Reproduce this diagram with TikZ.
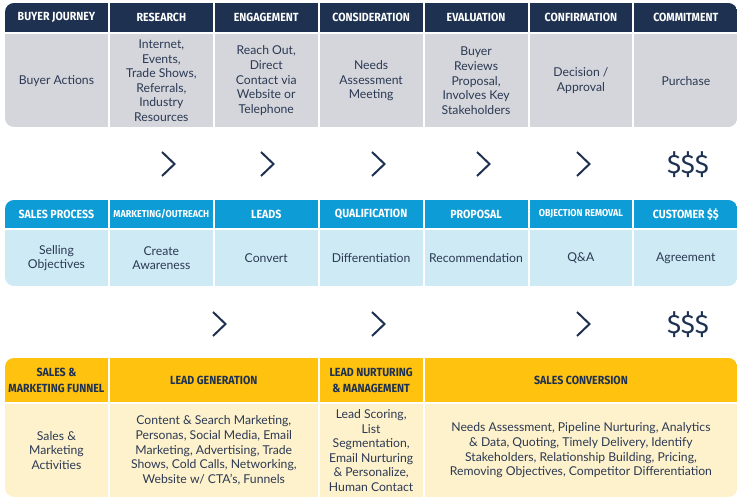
\documentclass[tikz,border=0pt]{standalone}
\usepackage{fontspec}
\setmainfont{Lato}
\newfontfamily\headfont[FakeStretch=0.9]{Fira Sans}
\newfontfamily\moneyfont{Fira Sans}
\usetikzlibrary{positioning}
\definecolor{journeynavy}{HTML}{1E3150}
\definecolor{journeygray}{HTML}{D4D6DB}
\definecolor{salesblue}{HTML}{0E9CD6}
\definecolor{salesltblue}{HTML}{CEEAF5}
\definecolor{funnelyellow}{HTML}{FEC20F}
\definecolor{funnelcream}{HTML}{FEF2CC}
\definecolor{inktext}{HTML}{2B3953}

\tikzset{
  cell/.style={rectangle, inner sep=0pt, align=center, text=inktext,
    font=\fontsize{12.2}{14.6}\selectfont},
  headcell/.style={cell, font=\headfont\bfseries\fontsize{11.8}{16}\selectfont},
  navyhead/.style={headcell, fill=journeynavy, text=white},
  bluehead/.style={headcell, fill=salesblue, text=white},
  yellowhead/.style={headcell, fill=funnelyellow, text=journeynavy},
  graybody/.style={cell, fill=journeygray},
  bluebody/.style={cell, fill=salesltblue},
  yellowbody/.style={cell, fill=funnelcream},
  chev/.style={draw=journeynavy, line width=2pt},
  money/.style={text=journeynavy, inner sep=0pt, font=\moneyfont\fontsize{26.5}{27}\selectfont},
  smallhead/.style={font=\headfont\bfseries\fontsize{10}{12}\selectfont}
}

\begin{document}
\begin{tikzpicture}[x=1pt, y=-1pt]
  \useasboundingbox (0,0) rectangle (745,502);

  % buyer journey
  \begin{scope}
    \clip[rounded corners=9pt] (5,3) rectangle (737.3,127);
    \foreach \i/\h/\b in {0/{BUYER JOURNEY}/{Buyer Actions},
        1/RESEARCH/{Internet,\\Events,\\Trade Shows,\\Referrals,\\Industry\\Resources},
        2/ENGAGEMENT/{Reach Out,\\Direct\\Contact via\\Website or\\Telephone},
        3/CONSIDERATION/{Needs\\Assessment\\Meeting},
        4/EVALUATION/{Buyer\\Reviews\\Proposal,\\Involves Key\\Stakeholders},
        5/CONFIRMATION/{Decision /\\Approval},
        6/COMMITMENT/{Purchase}} {
      \pgfmathsetmacro{\cx}{56.45+104.9*\i}
      \node[navyhead, minimum width=102.9pt, minimum height=29.5pt] (jh\i) at (\cx,17.75) {\h};
      \node[graybody, minimum width=102.9pt, minimum height=92.5pt] (jb\i) at (\cx,80.75) {\b};
    }
  \end{scope}

  \foreach \x in {168,267,378,483,583}
    \draw[chev] (\x-6,152) -- (\x+6.5,164) -- (\x-6,176);
  \node[money] (pay1) at (688,165) {\$\$\$};

  % sales process
  \begin{scope}
    \clip[rounded corners=9pt] (5,200) rectangle (737.3,286);
    \foreach \i/\h/\b/\f in {0/{SALES PROCESS}/{Selling\\Objectives}/{},
        1/{MARKETING/OUTREACH}/{Create\\Awareness}/smallhead,
        2/LEADS/{Convert}/{},
        3/QUALIFICATION/{Differentiation}/{},
        4/PROPOSAL/{Recommendation}/{},
        5/{OBJECTION REMOVAL}/{Q\&A}/smallhead,
        6/{CUSTOMER \$\$}/{Agreement}/{}} {
      \pgfmathsetmacro{\cx}{56.45+104.9*\i}
      \node[bluehead, \f, minimum width=102.9pt, minimum height=28.5pt] (sh\i) at (\cx,214.25) {\h};
      \node[bluebody, minimum width=102.9pt, minimum height=55.5pt] (sb\i) at (\cx,258.25) {\b};
    }
  \end{scope}

  \foreach \x in {219,378,583}
    \draw[chev] (\x-6,312) -- (\x+6.5,324) -- (\x-6,336);
  \node[money] (pay2) at (688,325) {\$\$\$};

  % sales and marketing funnel
  \begin{scope}
    \clip[rounded corners=9pt] (5,358) rectangle (737.3,497);
    \foreach \i/\cx/\w/\h/\b in {0/56.45/102.9/{SALES \&\\MARKETING FUNNEL}/{Sales \&\\Marketing\\Activities},
        1/213.8/207.8/{LEAD GENERATION}/{Content \& Search Marketing,\\Personas, Social Media, Email\\Marketing, Advertising, Trade\\Shows, Cold Calls, Networking,\\Website w/ CTA’s, Funnels},
        2/371.15/102.9/{LEAD NURTURING\\\& MANAGEMENT}/{Lead Scoring,\\List\\Segmentation,\\Email Nurturing\\\& Personalize,\\Human Contact},
        3/580.95/312.7/{SALES CONVERSION}/{Needs Assessment, Pipeline Nurturing, Analytics\\\& Data, Quoting, Timely Delivery, Identify\\Stakeholders, Relationship Building, Pricing,\\Removing Objectives, Competitor Differentiation}} {
      \node[yellowhead, minimum width=\w pt, minimum height=44pt] (fh\i) at (\cx,380) {\h};
      \node[yellowbody, minimum width=\w pt, minimum height=93pt] (fb\i) at (\cx,450.5) {\b};
    }
  \end{scope}
\end{tikzpicture}
\end{document}
